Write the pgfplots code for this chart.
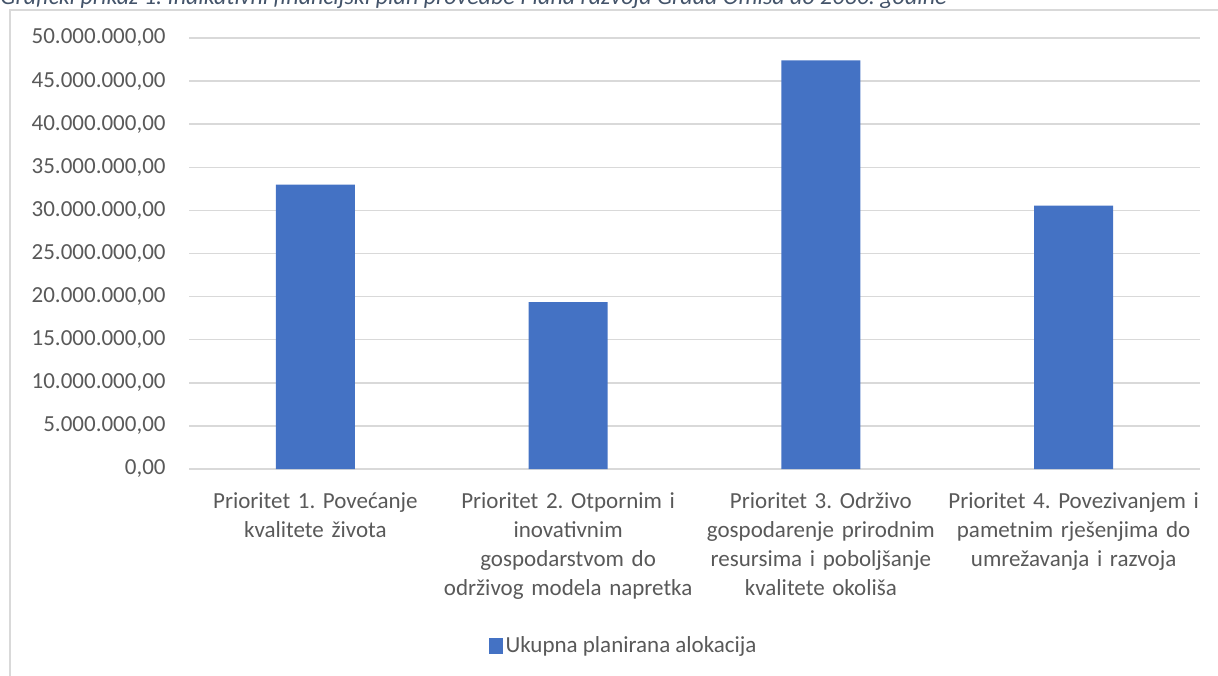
\documentclass[border=0pt]{standalone}
\usepackage{fontspec}
\setmainfont{Carlito}
\usepackage{pgfplots}
\pgfplotsset{compat=1.18}
\definecolor{barblue}{HTML}{4472C4}
\definecolor{txtgray}{HTML}{595959}
\definecolor{gridgray}{HTML}{D9D9D9}
\definecolor{captionblue}{HTML}{44546A}
\frenchspacing
\begin{document}
\begin{tikzpicture}
\useasboundingbox (0,0) rectangle (609pt,337.5pt);
\clip (0,0) rectangle (609pt,337.5pt);
% caption, cut off at the top like the source
\node[anchor=base west, inner sep=0pt, text=captionblue,
  font=\fontsize{12}{14}\selectfont\itshape] at (0pt,335pt)
  {Grafički prikaz 1. Indikativni financijski plan provedbe Plana razvoja Grada Omiša do 2030. godine};
% chart frame
\draw[gridgray, line width=0.75pt] (5pt,-1pt) -- (5pt,332.5pt) -- (615pt,332.5pt);
\begin{axis}[
  at={(94.5pt,103pt)}, anchor=south west,
  scale only axis,
  width=505.5pt, height=215.5pt,
  xmin=-0.5, xmax=3.5,
  ymin=0, ymax=50000000,
  ytick={0,5000000,...,50000000},
  scaled y ticks=false,
  xtick={0,1,2,3},
  xticklabels={
    {Prioritet 1. Povećanje\\kvalitete života},
    {Prioritet 2. Otpornim i\\inovativnim\\gospodarstvom do\\održivog modela napretka},
    {Prioritet 3. Održivo\\gospodarenje prirodnim\\resursima i poboljšanje\\kvalitete okoliša},
    {Prioritet 4. Povezivanjem i\\pametnim rješenjima do\\umrežavanja i razvoja}},
  axis line style={draw=none},
  major tick length=0pt,
  ymajorgrids,
  grid style={gridgray, line width=0.75pt},
  tick label style={text=txtgray, font=\fontsize{11.5}{14.5}\selectfont},
  yticklabel style={inner sep=0pt, xshift=-11.5pt,
    /pgf/number format/.cd, fixed, fixed zerofill, precision=2, use comma, 1000 sep={.}, assume math mode=true},
  xticklabel style={anchor=north, inner sep=0pt, yshift=-11.5pt, text width=128pt, align=center},
  legend style={draw=none, at={(0.4303,-0.4107)}, anchor=center,
    font=\fontsize{11.5}{14}\selectfont, text=txtgray,
    nodes={inner sep=1.5pt}},
  legend image code/.code={\fill[barblue] (0pt,-3.8pt) rectangle (7pt,3.8pt);},
]
\addplot[ybar, bar width=39.5pt, fill=barblue, draw=none]
  coordinates {(0,33000000) (1,19350000) (2,47400000) (3,30550000)};
\addlegendentry{Ukupna planirana alokacija}
\end{axis}
\end{tikzpicture}
\end{document}
